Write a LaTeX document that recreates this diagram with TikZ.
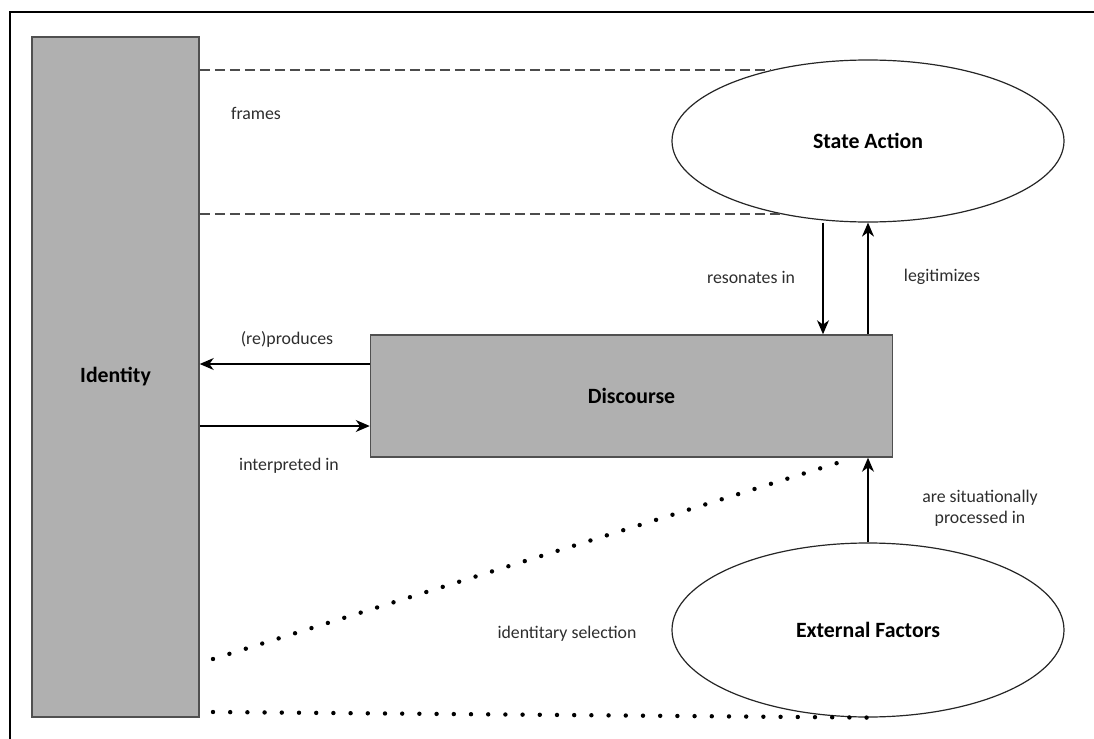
\documentclass[tikz,border=0pt]{standalone}
\usepackage{fontspec}
\setmainfont{Carlito}
\usetikzlibrary{arrows.meta,shapes.geometric}
\definecolor{boxgray}{RGB}{176,176,176}
\definecolor{edgegray}{RGB}{80,80,80}
\definecolor{txtgray}{RGB}{45,45,45}
\tikzset{
  box/.style={draw=edgegray,line width=0.75pt,fill=boxgray,inner sep=0pt,font=\fontsize{10.9}{13}\selectfont\bfseries},
  oval/.style={ellipse,draw=black!85,line width=0.6pt,fill=white,inner sep=0pt,font=\fontsize{10.9}{13}\selectfont\bfseries},
  arr/.style={-{Stealth[length=7pt,width=6pt,inset=2.2pt]},line width=0.65pt},
  dashline/.style={dash pattern=on 5pt off 2.5pt,line width=0.8pt,draw=black!70},
  dotline/.style={line width=2.2pt,line cap=round,dash pattern=on 0pt off 8.6pt},
  lbl/.style={font=\fontsize{8.9}{10.6}\selectfont,text=txtgray,align=center}
}
\begin{document}
\begin{tikzpicture}[x=0.5pt,y=-0.5pt]
        \useasboundingbox (0,0) rectangle (1094,739);
        % Frame
        \draw[line width=0.75pt] (10,739) -- (10,12) -- (1094,12);
        % Boxes
        \node[box,minimum width=83.5pt,minimum height=340pt] (identity) at (115.5,377) {Identity};
        \node[box,minimum width=261pt,minimum height=61pt] (discourse) at (631.5,396) {Discourse};
        % Ellipses
        \node[oval,minimum width=196pt,minimum height=81pt] (state) at (868,141) {State Action};
        \node[oval,minimum width=196pt,minimum height=87pt] (external) at (868,630) {External Factors};
        % Helper coordinates
        \coordinate (prodY) at (0,364);
        \coordinate (interpY) at (0,426);
        \coordinate (resX) at (823,0);
        \coordinate (selStart) at (213,659);
        \coordinate (selEnd) at (850,459);
        \coordinate (lowStart) at (213,712);
        % Dashed frame lines
        \draw[dashline] (identity.east |- state.144.6) -- (state.144.6);
        \draw[dashline] (identity.east |- state.220.6) -- (state.220.6);
        % Arrows
        \draw[arr] (discourse.west |- prodY) -- (identity.east |- prodY);
        \draw[arr] (identity.east |- interpY) -- (discourse.west |- interpY);
        \draw[arr] (state.south -| resX) -- (discourse.north -| resX);
        \draw[arr] (discourse.north -| state.south) -- (state.south);
        \draw[arr] (external.north) -- (discourse.south -| external.north);
        % Dotted lines
        \draw[dotline] (selStart) -- (selEnd);
        \draw[dotline] (lowStart) -- (external.south);
        % Labels
        \node[lbl] (framesL) at (256,113) {frames};
        \node[lbl] (prodL) at (287,339) {(re)produces};
        \node[lbl] (interpL) at (289,466) {interpreted in};
        \node[lbl] (resL) at (751,277) {resonates in};
        \node[lbl] (legL) at (942,277) {legitimizes};
        \node[lbl] (procL) at (980,508) {are situationally\\processed in};
        \node[lbl] (selL) at (567,634) {identitary selection};
    \end{tikzpicture}
\end{document}
